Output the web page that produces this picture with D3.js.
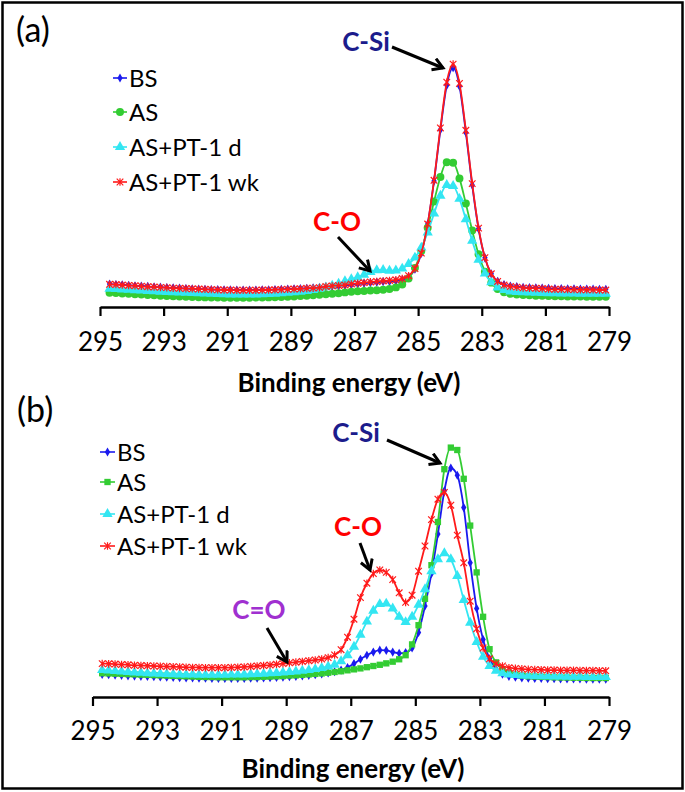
<!DOCTYPE html>
<html>
<head>
<meta charset="utf-8">
<script src="https://cdn.jsdelivr.net/npm/d3@7"></script>
<style>
  body { margin: 0; background: #fff; }
  svg { display: block; }
  text { font-family: Lato, "Open Sans", sans-serif; }
</style>
</head>
<body>
<svg id="chart" width="685" height="792"></svg>
<script>
// binding energy grid (eV), shared by both panels
const energies = [
  294.7, 294.5, 294.3, 294.1, 293.9, 293.7, 293.5, 293.3, 293.1, 292.9,
  292.7, 292.5, 292.3, 292.1, 291.9, 291.7, 291.5, 291.3, 291.1, 290.9,
  290.7, 290.5, 290.3, 290.1, 289.9, 289.7, 289.5, 289.3, 289.1, 288.9,
  288.7, 288.5, 288.3, 288.1, 287.9, 287.7, 287.5, 287.3, 287.1, 286.9,
  286.7, 286.5, 286.3, 286.1, 285.9, 285.7, 285.5, 285.3, 285.1, 284.9,
  284.7, 284.5, 284.3, 284.1, 283.9, 283.7, 283.5, 283.3, 283.1, 282.9,
  282.7, 282.5, 282.3, 282.1, 281.9, 281.7, 281.5, 281.3, 281.1, 280.9,
  280.7, 280.5, 280.3, 280.1, 279.9, 279.7, 279.5, 279.3, 279.1
];

const seriesNames = ["BS", "AS", "AS+PT-1 d", "AS+PT-1 wk"];
const tickValues = [295, 293, 291, 289, 287, 285, 283, 281, 279];

// panel (a) intensities, arbitrary units
const bsA = [
  6.7, 6.5, 6.4, 6.2, 6.0, 5.9, 5.7, 5.5, 5.4, 5.2,
  5.1, 5.0, 4.8, 4.7, 4.6, 4.5, 4.4, 4.4, 4.3, 4.3,
  4.2, 4.2, 4.2, 4.2, 4.3, 4.3, 4.4, 4.5, 4.6, 4.7,
  4.8, 4.9, 5.1, 5.3, 5.5, 5.7, 5.9, 6.1, 6.4, 6.7,
  7.0, 7.3, 7.5, 7.7, 7.8, 8.0, 8.5, 9.8, 12.9, 19.6,
  31.9, 50.0, 71.5, 90.2, 97.6, 89.8, 70.4, 48.3, 29.9, 17.7,
  11.0, 7.9, 6.5, 5.9, 5.6, 5.3, 5.2, 5.1, 5.0, 4.9,
  4.8, 4.8, 4.7, 4.7, 4.6, 4.6, 4.6, 4.5, 4.5
];
const asA = [
  3.0, 2.9, 2.7, 2.6, 2.4, 2.3, 2.1, 2.0, 1.8, 1.7,
  1.6, 1.5, 1.4, 1.3, 1.2, 1.1, 1.0, 1.0, 0.9, 0.9,
  0.9, 0.9, 0.9, 1.0, 1.0, 1.1, 1.2, 1.3, 1.4, 1.5,
  1.7, 1.8, 2.0, 2.2, 2.4, 2.6, 2.8, 3.2, 3.5, 3.7,
  3.8, 4.0, 4.1, 4.3, 4.6, 5.3, 6.5, 9.0, 13.5, 20.6,
  30.4, 41.4, 51.7, 57.9, 57.7, 51.1, 40.5, 29.2, 19.2, 11.9,
  7.3, 4.6, 3.3, 2.6, 2.3, 2.1, 2.0, 1.8, 1.8, 1.7,
  1.6, 1.6, 1.5, 1.5, 1.5, 1.4, 1.4, 1.4, 1.4
];
const pt1dA = [
  4.7, 4.6, 4.4, 4.3, 4.1, 4.0, 3.8, 3.7, 3.5, 3.4,
  3.2, 3.1, 3.0, 2.9, 2.8, 2.7, 2.6, 2.5, 2.4, 2.3,
  2.3, 2.3, 2.3, 2.3, 2.4, 2.5, 2.6, 2.8, 3.0, 3.2,
  3.5, 3.8, 4.2, 4.7, 5.3, 6.0, 6.8, 7.9, 8.7, 9.6,
  10.6, 11.8, 12.5, 12.6, 12.3, 12.4, 13.2, 15.1, 17.8, 22.0,
  28.4, 36.3, 43.8, 48.3, 47.9, 42.5, 33.9, 24.9, 16.9, 11.1,
  7.4, 5.2, 4.2, 3.6, 3.3, 3.2, 3.1, 3.0, 2.9, 2.8,
  2.8, 2.7, 2.7, 2.7, 2.6, 2.6, 2.6, 2.6, 2.6
];
const pt1wkA = [
  6.6, 6.5, 6.3, 6.1, 6.0, 5.8, 5.6, 5.5, 5.3, 5.2,
  5.0, 4.9, 4.8, 4.7, 4.6, 4.5, 4.4, 4.3, 4.2, 4.2,
  4.1, 4.1, 4.1, 4.1, 4.2, 4.2, 4.3, 4.4, 4.5, 4.6,
  4.7, 4.9, 5.0, 5.2, 5.7, 5.9, 6.1, 6.3, 6.7, 7.0,
  7.3, 7.6, 7.8, 8.0, 8.2, 8.5, 9.0, 10.2, 13.2, 19.7,
  31.9, 50.3, 72.3, 91.5, 99.1, 91.0, 71.3, 48.9, 30.2, 17.8,
  11.0, 7.8, 6.3, 5.7, 5.4, 5.1, 5.0, 4.9, 4.8, 4.6,
  4.5, 4.5, 4.4, 4.4, 4.3, 4.3, 4.3, 4.2, 4.2
];

// panel (b) intensities, arbitrary units
const bsB = [
  6.5, 6.4, 6.2, 6.1, 5.9, 5.8, 5.7, 5.6, 5.5, 5.4,
  5.3, 5.2, 5.1, 5.0, 5.0, 4.9, 4.9, 4.8, 4.8, 4.8,
  4.8, 4.8, 4.8, 4.9, 4.9, 5.0, 5.1, 5.2, 5.3, 5.5,
  5.7, 5.9, 6.1, 6.4, 6.7, 7.1, 7.6, 8.3, 9.4, 11.0,
  12.8, 14.5, 15.8, 16.6, 16.5, 15.8, 15.3, 15.6, 17.5, 24.0,
  35.0, 48.5, 65.0, 83.0, 92.5, 89.5, 76.0, 53.0, 34.0, 21.0,
  13.0, 8.8, 6.6, 5.7, 5.3, 5.0, 4.9, 4.8, 4.8, 4.7,
  4.7, 4.6, 4.6, 4.6, 4.6, 4.5, 4.5, 4.5, 4.5
];
const asB = [
  7.0, 6.9, 6.8, 6.7, 6.6, 6.5, 6.4, 6.3, 6.2, 6.1,
  6.0, 5.9, 5.8, 5.7, 5.6, 5.5, 5.4, 5.4, 5.3, 5.3,
  5.3, 5.3, 5.3, 5.4, 5.4, 5.5, 5.6, 5.7, 5.8, 6.0,
  6.1, 6.3, 6.5, 6.7, 6.9, 7.2, 7.5, 7.8, 8.2, 8.6,
  9.0, 9.5, 10.0, 10.5, 11.1, 11.8, 12.8, 14.5, 19.0, 27.0,
  38.0, 52.0, 70.0, 92.0, 101.0, 100.0, 88.0, 68.5, 49.0, 30.5,
  17.0, 11.5, 8.6, 7.2, 6.4, 6.0, 5.7, 5.6, 5.5, 5.4,
  5.3, 5.2, 5.2, 5.1, 5.1, 5.0, 5.0, 5.0, 5.0
];
const pt1dB = [
  8.3, 8.1, 7.9, 7.7, 7.5, 7.3, 7.2, 7.0, 6.9, 6.8,
  6.7, 6.6, 6.5, 6.4, 6.4, 6.3, 6.3, 6.3, 6.3, 6.3,
  6.4, 6.4, 6.5, 6.6, 6.7, 6.8, 7.0, 7.1, 7.3, 7.5,
  7.7, 8.0, 8.3, 8.7, 9.2, 9.8, 10.5, 12.0, 14.5, 18.0,
  23.0, 28.5, 33.0, 35.8, 36.0, 34.0, 30.5, 28.3, 30.5, 35.5,
  42.0, 49.5, 54.5, 57.0, 54.5, 47.5, 37.5, 28.0, 20.0, 13.8,
  10.0, 8.0, 7.0, 6.5, 6.2, 6.0, 5.9, 5.8, 5.7, 5.7,
  5.6, 5.6, 5.5, 5.5, 5.5, 5.4, 5.4, 5.4, 5.4
];
const pt1wkB = [
  11.0, 10.9, 10.8, 10.6, 10.5, 10.3, 10.2, 10.1, 10.0, 9.9,
  9.8, 9.7, 9.6, 9.5, 9.4, 9.4, 9.3, 9.3, 9.3, 9.3,
  9.4, 9.5, 9.6, 9.8, 10.0, 10.2, 10.4, 10.7, 11.0, 11.3,
  11.6, 11.9, 12.2, 12.5, 12.9, 13.5, 14.6, 16.8, 22.0, 29.5,
  38.5, 44.5, 48.5, 50.0, 49.0, 46.0, 40.5, 36.5, 39.5, 49.5,
  60.0, 71.0, 79.5, 82.3, 77.0, 64.5, 53.0, 37.0, 25.5, 17.5,
  13.0, 11.0, 10.0, 9.3, 9.0, 8.8, 8.6, 8.5, 8.4, 8.3,
  8.3, 8.2, 8.2, 8.2, 8.1, 8.1, 8.1, 8.0, 8.0
];

const colors = ["#1a1aee", "#33cc33", "#33e6f2", "#ff1a1a"];

const svg = d3.select("#chart");

svg.append("rect")
  .attr("x", 2.5).attr("y", 2.5)
  .attr("width", 680).attr("height", 786)
  .attr("fill", "none").attr("stroke", "#000").attr("stroke-width", 2.5);

svg.append("defs").append("marker")
  .attr("id", "arrow")
  .attr("markerUnits", "userSpaceOnUse")
  .attr("markerWidth", 16).attr("markerHeight", 16)
  .attr("refX", 12).attr("refY", 7)
  .attr("orient", "auto")
  .append("path")
  .attr("d", "M2,1 L12,7 L2,13")
  .attr("fill", "none").attr("stroke", "#000").attr("stroke-width", 3);

// marker drawers
function drawMarker(sel, kind, color) {
  if (kind === "diamond") {
    sel.append("path").attr("d", d3.symbol(d3.symbolDiamond, 24)()).attr("fill", color);
  } else if (kind === "circle") {
    sel.append("path").attr("d", d3.symbol(d3.symbolCircle, 50)()).attr("fill", color);
  } else if (kind === "square") {
    sel.append("path").attr("d", d3.symbol(d3.symbolSquare, 40)()).attr("fill", color);
  } else if (kind === "triangle") {
    sel.append("path").attr("d", d3.symbol(d3.symbolTriangle, 46)()).attr("fill", color);
  } else {
    sel.append("path").attr("d", "M-3.3,-3.3L3.3,3.3M-3.3,3.3L3.3,-3.3M0,-3.8L0,3.8")
      .attr("stroke", color).attr("stroke-width", 1.2).attr("fill", "none");
  }
}

const panels = [
  {
    label: "(a)", labelPos: [16, 42],
    series: [bsA, asA, pt1dA, pt1wkA],
    markers: ["diamond", "circle", "triangle", "x"],
    xRange: [100, 609], yRange: [300, 62], axisY: 307, tickPad: 17,
    titleX: 349, titleY: 392,
    legend: { x0: 113, x1: 127, tx: 129, ys: [78, 112, 147, 182] },
    notes: [
      { text: "C-Si", color: "#1c1c8c", x: 366, y: 51, from: [392, 47], to: [443, 68] },
      { text: "C-O", color: "#ff0000", x: 337, y: 231, from: [338, 237], to: [370, 271] }
    ]
  },
  {
    label: "(b)", labelPos: [17, 422],
    series: [bsB, asB, pt1dB, pt1wkB],
    markers: ["diamond", "square", "triangle", "x"],
    xRange: [92.5, 609], yRange: [690, 450], axisY: 697, tickPad: 16,
    titleX: 353, titleY: 778,
    legend: { x0: 100, x1: 115, tx: 117, ys: [452, 482, 514, 546] },
    notes: [
      { text: "C-Si", color: "#1c1c8c", x: 356, y: 442, from: [387, 440], to: [440, 463] },
      { text: "C-O", color: "#ff0000", x: 358, y: 536, from: [360, 543], to: [370, 570] },
      { text: "C=O", color: "#a030d0", x: 259, y: 619, from: [267, 628], to: [287, 662] }
    ]
  }
];

panels.forEach(p => {
  const x = d3.scaleLinear().domain([295, 279]).range(p.xRange);
  const y = d3.scaleLinear().domain([0, 100]).range(p.yRange);
  const g = svg.append("g");

  // series
  p.series.forEach((vals, si) => {
    const pts = energies.map((e, i) => [e, vals[i]]);
    const line = d3.line().x(d => x(d[0])).y(d => y(d[1])).curve(d3.curveMonotoneX);
    const sg = g.append("g");
    sg.append("path").datum(pts)
      .attr("d", line)
      .attr("fill", "none")
      .attr("stroke", colors[si])
      .attr("stroke-width", 1.8);
    sg.selectAll("g.pt").data(pts).enter().append("g")
      .attr("class", "pt")
      .attr("transform", d => "translate(" + x(d[0]) + "," + y(d[1]) + ")")
      .each(function () { drawMarker(d3.select(this), p.markers[si], colors[si]); });
  });

  // axis
  const ax = g.append("g")
    .attr("transform", "translate(0," + p.axisY + ")")
    .call(d3.axisBottom(x).tickValues(tickValues).tickSize(9).tickSizeOuter(0).tickPadding(p.tickPad));
  ax.select(".domain").attr("stroke", "#000").attr("stroke-width", 2.5);
  ax.selectAll(".tick line").attr("stroke", "#000").attr("stroke-width", 2.2);
  ax.selectAll(".tick text")
    .attr("fill", "#000")
    .style("font-size", "26px")
    .style("font-family", "Lato, 'Open Sans', sans-serif");

  g.append("text")
    .attr("x", p.titleX).attr("y", p.titleY)
    .attr("text-anchor", "middle")
    .style("font-size", "26px").style("font-weight", "bold")
    .text("Binding energy (eV)");

  g.append("text")
    .attr("x", p.labelPos[0]).attr("y", p.labelPos[1])
    .style("font-size", "34px")
    .text(p.label);

  // legend
  seriesNames.forEach((name, si) => {
    const ly = p.legend.ys[si];
    const lg = g.append("g");
    lg.append("line")
      .attr("x1", p.legend.x0).attr("x2", p.legend.x1)
      .attr("y1", ly).attr("y2", ly)
      .attr("stroke", colors[si]).attr("stroke-width", 1.6);
    const mg = lg.append("g").attr("transform", "translate(" + ((p.legend.x0 + p.legend.x1) / 2) + "," + ly + ")");
    drawMarker(mg, p.markers[si], colors[si]);
    lg.append("text")
      .attr("x", p.legend.tx).attr("y", ly)
      .attr("dy", "0.36em")
      .style("font-size", "24px")
      .text(name);
  });

  // annotations
  p.notes.forEach(n => {
    g.append("text")
      .attr("x", n.x).attr("y", n.y)
      .attr("text-anchor", "middle")
      .attr("fill", n.color)
      .style("font-size", "26px").style("font-weight", "bold")
      .text(n.text);
    g.append("line")
      .attr("x1", n.from[0]).attr("y1", n.from[1])
      .attr("x2", n.to[0]).attr("y2", n.to[1])
      .attr("stroke", "#000").attr("stroke-width", 3)
      .attr("marker-end", "url(#arrow)");
  });
});
</script>
</body>
</html>
